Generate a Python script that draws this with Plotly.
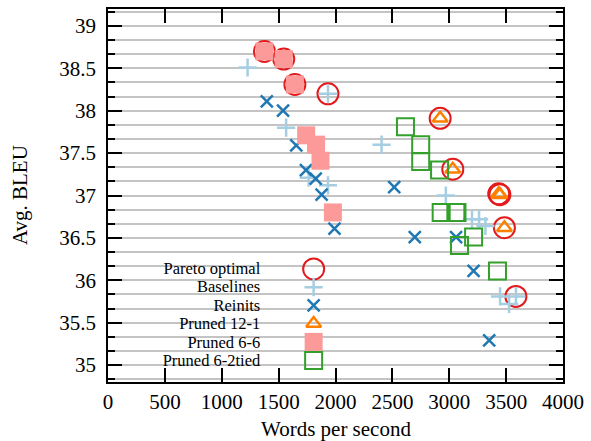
import plotly.graph_objects as go

# ---------------- data ----------------
pareto_wps = [1375, 1545, 1643, 1934, 2920, 3031, 3435, 3445, 3485, 3586]
pareto_bleu = [38.70, 38.61, 38.31, 38.20, 37.91, 37.31, 37.02, 37.01, 36.62, 35.81]

baseline_wps = [1227, 1934, 1566, 1764, 1934, 2405, 2970, 3200, 3262, 3318, 3447, 3586, 3526]
baseline_bleu = [38.51, 38.20, 37.80, 37.21, 37.12, 37.60, 37.00, 36.72, 36.72, 36.64, 35.81, 35.81, 35.72]

reinit_wps = [1396, 1539, 1655, 1740, 1826, 1878, 1991, 2516, 2697, 3060, 3214, 3351]
reinit_bleu = [38.11, 38.00, 37.59, 37.30, 37.20, 37.01, 36.61, 37.10, 36.51, 36.51, 36.11, 35.29]

p121_wps = [2920, 3031, 3435, 3445, 3485]
p121_bleu = [37.91, 37.31, 37.02, 37.01, 36.62]

p66_wps = [1375, 1545, 1643, 1742, 1829, 1868, 1977]
p66_bleu = [38.70, 38.61, 38.31, 37.71, 37.60, 37.41, 36.80]

p62_wps = [2615, 2749, 2749, 2915, 2929, 3058, 3068, 3214, 3090, 3424]
p62_bleu = [37.81, 37.60, 37.40, 37.30, 36.80, 36.80, 36.80, 36.51, 36.41, 36.11]

series_names = ["Pareto optimal", "Baselines", "Reinits", "Pruned 12-1", "Pruned 6-6", "Pruned 6-2tied"]
x_ticks = [0, 500, 1000, 1500, 2000, 2500, 3000, 3500, 4000]
y_ticks = [35, 35.5, 36, 36.5, 37, 37.5, 38, 38.5, 39]

# ---------------- styling ----------------
FONT = "Liberation Serif"
FS = 21
KFS = 16.5
W, H = 591, 441
ML, MR, MT, MB = 108, 25, 7, 59
PW, PH = W - ML - MR, H - MT - MB

styles = [
    dict(symbol="circle-open", size=21, color="#e31a1c", line=dict(width=2, color="#e31a1c")),
    dict(symbol="cross-thin-open", size=13, color="#a6cee3", line=dict(width=2.5, color="#a6cee3")),
    dict(symbol="x-thin-open", size=12, color="#1f78b4", line=dict(width=2.5, color="#1f78b4")),
    dict(symbol="triangle-up-open", size=13, color="#ff7f00", line=dict(width=2.5, color="#ff7f00")),
    dict(symbol="square", size=18, color="#fb9a99", line=dict(width=0)),
    dict(symbol="square-open", size=17, color="#33a02c", line=dict(width=2, color="#33a02c")),
]
series = [
    (pareto_wps, pareto_bleu),
    (baseline_wps, baseline_bleu),
    (reinit_wps, reinit_bleu),
    (p121_wps, p121_bleu),
    (p66_wps, p66_bleu),
    (p62_wps, p62_bleu),
]

fig = go.Figure()
for name, (xs, ys), st in zip(series_names, series, styles):
    fig.add_trace(go.Scatter(x=xs, y=ys, mode="markers", name=name, marker=st,
                             showlegend=False, hoverinfo="x+y+name"))

# ---------------- custom key (text right-aligned, sample at right) ----------------
def px_to_paper_x(px):
    return (px - ML) / PW

def px_to_paper_y(py):
    return (H - MB - py) / PH

key_rows_py = [268.3, 286.7, 305.0, 323.3, 341.7, 360.5]
key_text_px = 263
key_sym_px = 315
row_gap = (key_rows_py[-1] - key_rows_py[0]) / (len(key_rows_py) - 1)

key_text = "<br>".join(f"<span style='font-size:{KFS}px'>{n}</span>" for n in series_names)
fig.add_annotation(x=px_to_paper_x(key_text_px),
                   y=px_to_paper_y((key_rows_py[0] + key_rows_py[-1]) / 2),
                   xref="paper", yref="paper", text=key_text, showarrow=False,
                   xanchor="right", yanchor="middle", width=200, align="right", borderpad=0,
                   font=dict(family=FONT, size=row_gap / 1.3, color="black"))
for st, py in zip(styles, key_rows_py):
    fig.add_trace(go.Scatter(x=[px_to_paper_x(key_sym_px)], y=[px_to_paper_y(py)], mode="markers",
                             marker=st, xaxis="x2", yaxis="y2", showlegend=False, hoverinfo="skip"))

# white key background hiding grid lines
fig.add_shape(type="rect", xref="paper", yref="paper",
              x0=0, x1=px_to_paper_x(354), y0=0, y1=px_to_paper_y(258),
              fillcolor="white", line=dict(width=0), layer="between")

# axis titles
fig.add_annotation(x=0.5, y=px_to_paper_y(429), xref="paper", yref="paper", text="Words per second",
                   showarrow=False, xanchor="center", yanchor="middle", borderpad=0,
                   font=dict(family=FONT, size=FS, color="black"))
fig.add_annotation(x=px_to_paper_x(19), y=0.5, xref="paper", yref="paper", text="Avg. BLEU",
                   showarrow=False, xanchor="center", yanchor="middle", textangle=-90, borderpad=0,
                   font=dict(family=FONT, size=FS, color="black"))

GRID = "#c4c4c4"
fig.update_layout(
    width=W, height=H,
    margin=dict(l=ML, r=MR, t=MT, b=MB),
    paper_bgcolor="white", plot_bgcolor="white",
    font=dict(family=FONT, size=FS, color="black"),
    showlegend=False,
    xaxis=dict(range=[0, 4000], tickvals=x_ticks, ticktext=[str(v) for v in x_ticks],
               ticks="inside", ticklen=14, tickwidth=1.5, tickcolor="black",
               showline=True, linecolor="black", linewidth=1.5, mirror="ticks",
               showgrid=False, zeroline=False, ticklabelstandoff=0),
    yaxis=dict(range=[34.8, 39.2], tickvals=y_ticks, ticktext=[f"{v:g}" for v in y_ticks],
               ticks="inside", ticklen=14, tickwidth=1.5, tickcolor="black",
               showline=True, linecolor="black", linewidth=1.5, mirror="ticks",
               showgrid=True, gridcolor=GRID, gridwidth=1.5, zeroline=False,
               ticklabelstandoff=6,
               minor=dict(tick0=35, dtick=0.5 / 3, ticks="inside", ticklen=7, tickwidth=1.5,
                          tickcolor="black", showgrid=True, gridcolor=GRID, gridwidth=1.5)),
    xaxis2=dict(domain=[0, 1], range=[0, 1], overlaying="x", visible=False, fixedrange=True),
    yaxis2=dict(domain=[0, 1], range=[0, 1], overlaying="y", visible=False, fixedrange=True),
)

fig.write_html("out.html", config={"displayModeBar": False},
               post_script="document.body.style.margin='0px';")
